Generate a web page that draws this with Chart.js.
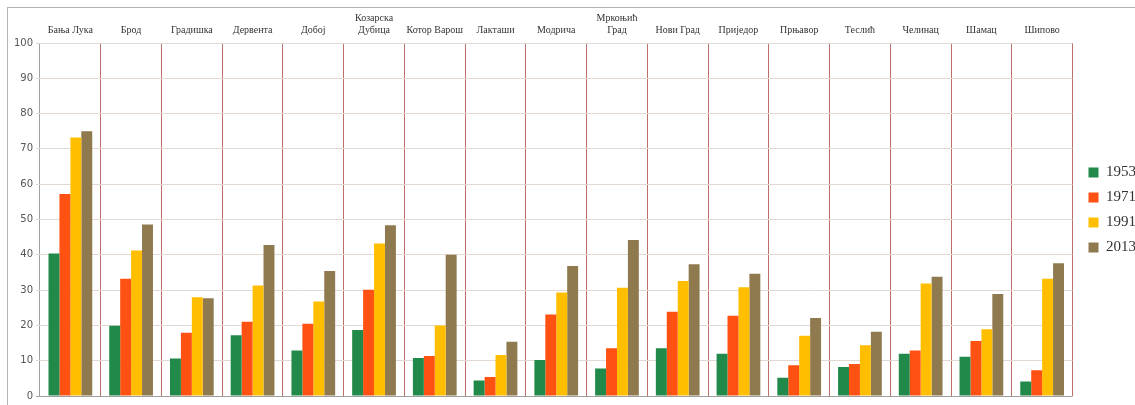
<!DOCTYPE html>
<html>
<head>
<meta charset="utf-8">
<script src="https://cdn.jsdelivr.net/npm/chart.js@4/dist/chart.umd.min.js"></script>
<style>
  html, body { margin: 0; background: #fff; overflow: hidden; }
  #frame { position: absolute; left: 7px; top: 7px; width: 1133px; height: 398px;
           border-top: 1px solid #b4b4b4; border-left: 1px solid #b4b4b4; box-sizing: border-box; }
  #wrap { position: absolute; left: 0; top: 0; width: 1132px; height: 397px; }
</style>
</head>
<body>
<div id="frame"><div id="wrap"><canvas id="chart"></canvas></div></div>
<script>
// municipalities (top axis)
const towns = [
  'Бања Лука', 'Брод', 'Градишка', 'Дервента', 'Добој', ['Козарска', 'Дубица'],
  'Котор Варош', 'Лакташи', 'Модрича', ['Мркоњић', 'Град'], 'Нови Град', 'Приједор',
  'Прњавор', 'Теслић', 'Челинац', 'Шамац', 'Шипово'
];
const years = ['1953', '1971', '1991', '2013'];

// values per census year
const v1953 = [40.4, 19.9, 10.6, 17.2, 12.9, 18.7, 10.8, 4.4, 10.2, 7.8, 13.5, 12.0, 5.2, 8.2, 12.0, 11.1, 4.1];
const v1971 = [57.2, 33.2, 17.9, 21.0, 20.5, 30.1, 11.3, 5.4, 23.1, 13.5, 23.9, 22.7, 8.7, 9.1, 12.9, 15.6, 7.3];
const v1991 = [73.2, 41.2, 28.0, 31.3, 26.8, 43.2, 20.0, 11.6, 29.3, 30.7, 32.6, 30.8, 17.1, 14.4, 31.9, 18.9, 33.2];
const v2013 = [75.0, 48.6, 27.7, 42.8, 35.4, 48.4, 40.0, 15.4, 36.8, 44.2, 37.3, 34.6, 22.1, 18.2, 33.8, 28.9, 37.6];

const colors = ['#21894a', '#ff5212', '#ffbf00', '#8f7a50'];
const series = [v1953, v1971, v1991, v2013];

const datasets = years.map((y, i) => ({
  label: y,
  data: series[i],
  backgroundColor: colors[i],
  borderWidth: 0,
  categoryPercentage: 0.72,
  barPercentage: 1.0
}));

// nudge the legend a bit to the right and down, like the original
const legendNudge = {
  id: 'legendNudge',
  afterLayout(chart) {
    const lg = chart.legend;
    lg.left += 6; lg.right += 6;
    lg.top += 7; lg.bottom += 7;
  }
};

new Chart(document.getElementById('chart'), {
  type: 'bar',
  data: { labels: towns, datasets },
  plugins: [legendNudge],
  options: {
    responsive: true,
    maintainAspectRatio: false,
    animation: false,
    layout: { padding: { left: 0, right: 0, top: 0, bottom: 7 } },
    plugins: {
      tooltip: { enabled: false },
      legend: {
        position: 'right',
        labels: {
          boxWidth: 10, boxHeight: 10, padding: 10,
          color: '#333',
          font: { family: 'Liberation Serif', size: 15 }
        }
      }
    },
    scales: {
      x: {
        position: 'top',
        border: { display: false },
        grid: {
          offset: true,
          drawTicks: false,
          lineWidth: 1,
          color: c => c.index === 0 ? '#a0a0a0' : '#bb6e6c'
        },
        ticks: {
          padding: 7,
          maxRotation: 0,
          autoSkip: false,
          color: '#333',
          font: { family: 'Liberation Serif', size: 10, lineHeight: 1.2 }
        },
        afterFit: s => { s.height = 35; }
      },
      y: {
        min: 0, max: 100,
        border: { display: false },
        grid: {
          color: c => c.tick && c.tick.value === 0 ? '#a0a0a0' : '#e2dad2',
          tickLength: 4
        },
        ticks: {
          stepSize: 10,
          padding: 3,
          color: '#555',
          font: { family: 'DejaVu Sans', size: 10 }
        },
        afterFit: s => { s.width = 32; }
      }
    }
  }
});
</script>
</body>
</html>
